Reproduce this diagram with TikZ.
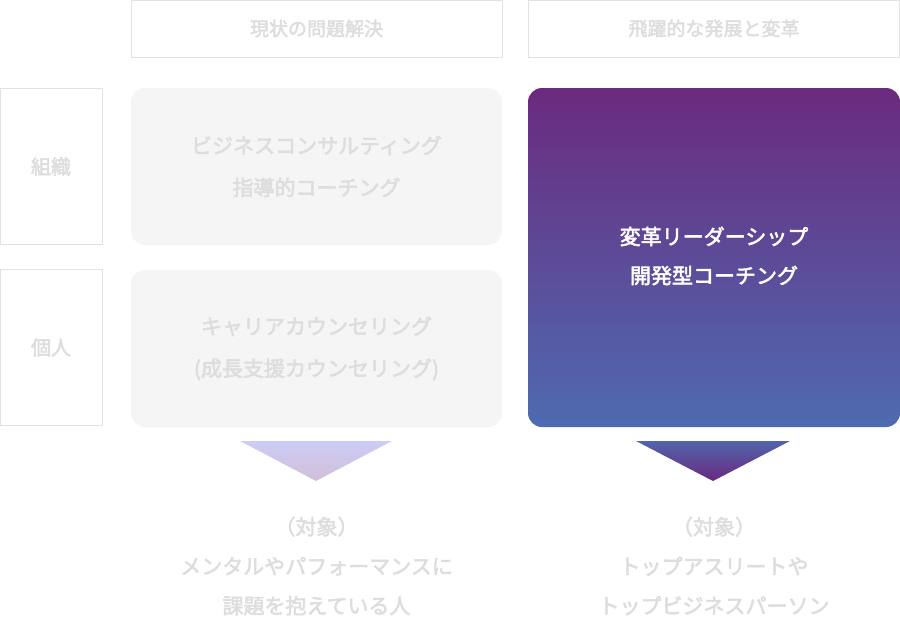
\documentclass[tikz,border=0pt]{standalone}
\usepackage{fontspec}
\setmainfont{Noto Sans CJK JP}[AutoFakeBold=2.5]
\usetikzlibrary{positioning}
\definecolor{linegray}{HTML}{E2E2E2}
\definecolor{txtgray}{HTML}{DDDDDD}
\definecolor{boxgray}{HTML}{F5F5F5}
\definecolor{deeppurple}{HTML}{6B2A7E}
\definecolor{deepblue}{HTML}{4E6BB1}
\tikzset{
  headbox/.style={draw=linegray, line width=1pt, minimum width=371pt, minimum height=57pt, text=txtgray, font=\bfseries\fontsize{19}{20}\selectfont},
  sidebox/.style={draw=linegray, line width=1pt, minimum width=102pt, minimum height=156pt, text=txtgray, font=\bfseries\fontsize{20}{21}\selectfont},
  softbox/.style={fill=boxgray, rounded corners=14pt, minimum width=371pt, minimum height=157pt, text=txtgray, align=center, font=\bfseries\fontsize{21}{42}\selectfont},
  note/.style={text=txtgray, align=center, font=\bfseries\fontsize{21}{39.5}\selectfont}
}
\begin{document}
\begin{tikzpicture}[x=1pt,y=-1pt]
\useasboundingbox (0,0) rectangle (900,627);

\node[headbox] (now) at (316.5,28.5) {現状の問題解決};
\node[headbox] (leap) at (714,28.5) {飛躍的な発展と変革};

\node[sidebox] (org) at (51,166.5) {組織};
\node[sidebox] (person) at (51,347.5) {個人};

\node[softbox] (consult) at (316.5,166.5) {ビジネスコンサルティング\\指導的コーチング};
\node[softbox] (career) at (316.5,348.5) {キャリアカウンセリング\\(成長支援カウンセリング)};

\shade[top color=deeppurple, bottom color=deepblue, rounded corners=14pt] (528,88) rectangle (900,427);
\node[align=center, text=white, font=\bfseries\fontsize{21}{39}\selectfont] (reform) at (714,256) {変革リーダーシップ\\開発型コーチング};

\shade[top color=black!18!blue!20, bottom color=deeppurple!30] (240,441) -- (392,441) -- (316,481) -- cycle;
\shade[top color=deepblue!90!deeppurple, bottom color=deeppurple] (636,441) -- (790,441) -- (713,481) -- cycle;

\node[note] (target1) at (316.5,566) {（対象）\\メンタルやパフォーマンスに\\課題を抱えている人};
\node[note] (target2) at (714,566) {（対象）\\トップアスリートや\\トップビジネスパーソン};
\end{tikzpicture}
\end{document}
